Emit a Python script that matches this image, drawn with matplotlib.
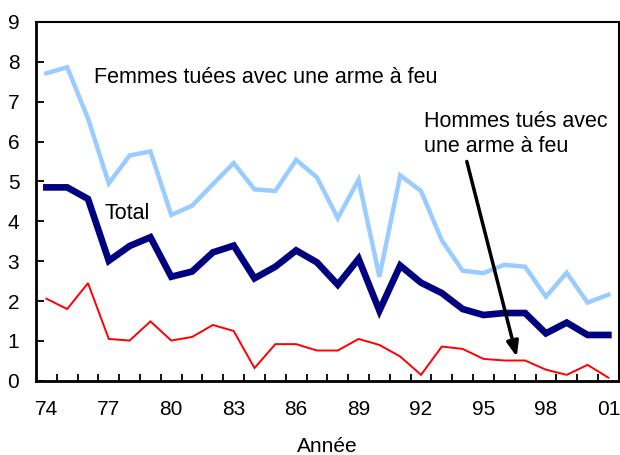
import matplotlib
matplotlib.use("Agg")
import matplotlib.pyplot as plt
from matplotlib.ticker import MultipleLocator, FixedLocator
import numpy as np

plt.rcParams["font.family"] = ["Liberation Sans", "DejaVu Sans"]

# années 1974-2001 (catégories)
years = list(range(1974, 2002))
year_labels = ["74", "77", "80", "83", "86", "89", "92", "95", "98", "01"]

femmes = [7.71, 7.86, 6.58, 4.95, 5.65, 5.75, 4.16, 4.39, 4.93, 5.46,
          4.80, 4.76, 5.54, 5.10, 4.08, 5.04, 2.61, 5.15, 4.76, 3.52,
          2.76, 2.70, 2.91, 2.86, 2.11, 2.71, 1.96, 2.16]
total = [4.85, 4.85, 4.56, 3.01, 3.38, 3.60, 2.61, 2.74, 3.22, 3.39,
         2.57, 2.86, 3.27, 2.97, 2.41, 3.06, 1.76, 2.89, 2.46, 2.20,
         1.80, 1.65, 1.70, 1.70, 1.19, 1.46, 1.15, 1.15]
hommes = [2.06, 1.80, 2.45, 1.05, 1.01, 1.49, 1.01, 1.10, 1.40, 1.25,
          0.32, 0.92, 0.92, 0.76, 0.76, 1.05, 0.90, 0.61, 0.15, 0.86,
          0.80, 0.55, 0.51, 0.51, 0.28, 0.15, 0.40, 0.08]

x = np.arange(len(years))

fig = plt.figure(figsize=(6.2, 4.55), dpi=100)
ax = fig.add_axes([0.058, 0.163, 0.940, 0.789])

ax.plot(x, femmes, color="#99ccff", lw=3.2, solid_joinstyle="miter")
ax.plot(x, total, color="#000080", lw=4.8, solid_joinstyle="miter")
ax.plot(x, hommes, color="#ff0000", lw=1.4, solid_joinstyle="miter")

ax.set_xlim(-0.5, len(years) - 0.5)
ax.set_ylim(0, 9)
ax.yaxis.set_major_locator(MultipleLocator(1))
ax.set_xticks(x[::3])
ax.set_xticklabels(year_labels)
ax.xaxis.set_minor_locator(FixedLocator(np.arange(0.5, len(years) - 0.5, 1)))

ax.tick_params(axis="x", which="major", length=0, pad=14, labelsize=15)
ax.tick_params(axis="x", which="minor", direction="in", length=5, width=1.3)
ax.tick_params(axis="y", direction="in", length=6, width=1.3, pad=12, labelsize=15)

for s in ("left", "bottom"):
    ax.spines[s].set_linewidth(2)
for s in ("top", "right"):
    ax.spines[s].set_linewidth(1.5)

ax.set_xlabel("Année", fontsize=15, labelpad=13)

ax.text(2.3, 7.6, "Femmes tuées avec une arme à feu", fontsize=15.5, va="center")
ax.text(2.8, 4.2, "Total", fontsize=15.5, va="center")
ax.text(18.15, 6.2, "Hommes tués avec\nune arme à feu", fontsize=15.5,
        va="center", linespacing=1.25)
ax.annotate("", xy=(22.6, 0.6), xytext=(20.2, 5.5),
            arrowprops=dict(arrowstyle="-|>,head_length=0.9,head_width=0.35",
                            color="black", lw=2.5, shrinkA=0, shrinkB=0))

fig.savefig("out.png", dpi=100)
